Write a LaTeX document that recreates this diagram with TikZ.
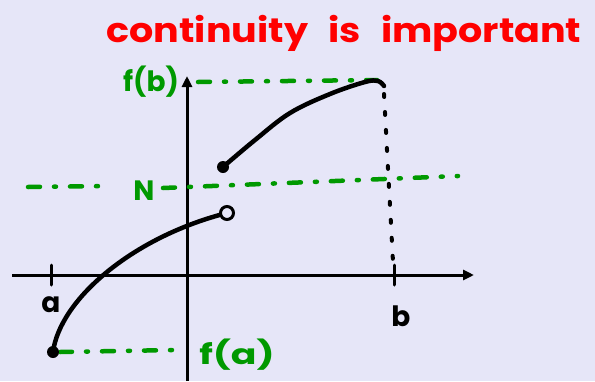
\documentclass[tikz,border=0pt]{standalone}
\usepackage{fontspec}
\setmainfont{Poppins}
\usetikzlibrary{arrows.meta}
\definecolor{bg}{HTML}{E6E6F8}
\definecolor{gr}{HTML}{009900}
\definecolor{rd}{HTML}{FF0000}
\begin{document}
\begin{tikzpicture}[x=1pt,y=-1pt,
  axis/.style={line width=3pt,-{Triangle[length=11pt,width=10pt]}},
  tick/.style={line width=3pt,line cap=round},
  curve/.style={line width=4.5pt,line cap=round,line join=round},
  dotv/.style={line width=4pt,line cap=round,dash pattern=on 3pt off 15pt},
  guide/.style={gr,line width=4.5pt,line cap=round,dash pattern=on 12pt off 14pt on 2pt off 14pt},
  glab/.style={gr,inner sep=0pt,font=\fontsize{28}{28}\selectfont\bfseries},
  blab/.style={black,inner sep=0pt,font=\fontsize{28}{28}\selectfont\bfseries},
  dot/.style={circle,fill=black,minimum size=12pt,inner sep=0pt},
  odot/.style={circle,draw=black,line width=3pt,minimum size=13pt,inner sep=0pt}
]
\fill[bg] (0,0) rectangle (595,381);
\useasboundingbox (0,0) rectangle (595,381);

% title
\node[rd,inner sep=0pt,font=\fontsize{34}{34}\selectfont\bfseries] (title) at (344,33)
  {\scalebox{1.12}[1]{continuity\hspace{18pt}is\hspace{18pt}important}};

% axes
\coordinate (xl) at (12,275);
\coordinate (xr) at (474,275);
\coordinate (yb) at (187,381);
\coordinate (yt) at (187,76);
\draw[axis] (xl) -- (xr);
\draw[axis] (yb) -- (yt);

% ticks
\coordinate (ta1) at (51,265); \coordinate (ta2) at (51,285);
\coordinate (tb1) at (394,265); \coordinate (tb2) at (394,285);
\draw[tick] (ta1) -- (ta2);
\draw[tick] (tb1) -- (tb2);
\node[blab] (a) at (51,305) {a};
\node[blab] (b) at (401,316) {b};

% green guide lines
\coordinate (fb1) at (198,82); \coordinate (fb2) at (377,80);
\draw[guide] (fb1) -- (fb2);
\node[glab] (fblab) at (151,82) {f(b)};

\coordinate (n1) at (28,187); \coordinate (n2) at (108,186);
\coordinate (n3) at (163,188); \coordinate (n4) at (458,176);
\draw[guide] (n1) -- (n2);
\draw[guide] (n3) -- (n4);
\node[glab] (N) at (144,191) {N};

\coordinate (fa1) at (60,352); \coordinate (fa2) at (175,350);
\draw[guide] (fa1) -- (fa2);
\node[glab] (falab) at (237,355) {\scalebox{1.35}[1]{f(a)}};

% lower piece
\node[dot] (pa) at (53,352) {};
\node[odot] (open) at (227,213) {};
\draw[curve] (pa.center) .. controls (60,300) and (130,240) .. (open.195);

% upper piece
\node[dot] (pu) at (223,167) {};
\coordinate (peak) at (384,86);
\draw[curve] plot[smooth,tension=0.6] coordinates {(223,167) (255,140) (290,113) (330,94) (365,82) (378,81) (384,86)};

% dotted vertical to b
\coordinate (bt) at (393,262);
\draw[dotv] (peak) ++(0,8) -- (bt);
\end{tikzpicture}
\end{document}
